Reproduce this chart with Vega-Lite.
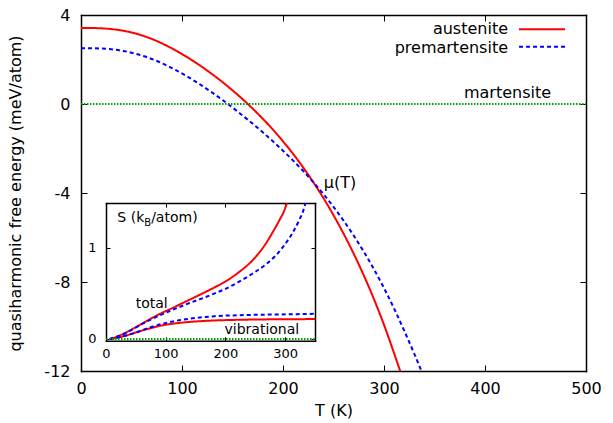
{
  "$schema": "https://vega.github.io/schema/vega-lite/v6.json",
  "width": 505,
  "height": 356,
  "autosize": {"type": "none"},
  "padding": {"left": 81, "top": 15, "right": 27, "bottom": 52},
  "background": "white",
  "datasets": {
    "main": [
      {"T": 0, "F": 3.42, "phase": "austenite"}, {"T": 10, "F": 3.416, "phase": "austenite"}, {"T": 20, "F": 3.401, "phase": "austenite"}, {"T": 30, "F": 3.367, "phase": "austenite"}, {"T": 40, "F": 3.307, "phase": "austenite"}, {"T": 50, "F": 3.215, "phase": "austenite"}, {"T": 60, "F": 3.088, "phase": "austenite"}, {"T": 70, "F": 2.925, "phase": "austenite"}, {"T": 80, "F": 2.728, "phase": "austenite"}, {"T": 90, "F": 2.5, "phase": "austenite"}, {"T": 100, "F": 2.245, "phase": "austenite"}, {"T": 110, "F": 1.965, "phase": "austenite"}, {"T": 120, "F": 1.662, "phase": "austenite"}, {"T": 130, "F": 1.336, "phase": "austenite"}, {"T": 140, "F": 0.987, "phase": "austenite"}, {"T": 150, "F": 0.614, "phase": "austenite"}, {"T": 160, "F": 0.216, "phase": "austenite"}, {"T": 170, "F": -0.209, "phase": "austenite"}, {"T": 180, "F": -0.664, "phase": "austenite"}, {"T": 190, "F": -1.152, "phase": "austenite"}, {"T": 200, "F": -1.677, "phase": "austenite"}, {"T": 210, "F": -2.243, "phase": "austenite"}, {"T": 220, "F": -2.854, "phase": "austenite"}, {"T": 230, "F": -3.514, "phase": "austenite"}, {"T": 240, "F": -4.227, "phase": "austenite"}, {"T": 250, "F": -4.997, "phase": "austenite"}, {"T": 260, "F": -5.829, "phase": "austenite"}, {"T": 270, "F": -6.729, "phase": "austenite"}, {"T": 280, "F": -7.704, "phase": "austenite"}, {"T": 290, "F": -8.764, "phase": "austenite"}, {"T": 300, "F": -9.924, "phase": "austenite"}, {"T": 310, "F": -11.204, "phase": "austenite"}, {"T": 316, "F": -12.0, "phase": "austenite"},
      {"T": 0, "F": 2.51, "phase": "premartensite"}, {"T": 10, "F": 2.506, "phase": "premartensite"}, {"T": 20, "F": 2.491, "phase": "premartensite"}, {"T": 30, "F": 2.457, "phase": "premartensite"}, {"T": 40, "F": 2.397, "phase": "premartensite"}, {"T": 50, "F": 2.307, "phase": "premartensite"}, {"T": 60, "F": 2.183, "phase": "premartensite"}, {"T": 70, "F": 2.025, "phase": "premartensite"}, {"T": 80, "F": 1.835, "phase": "premartensite"}, {"T": 90, "F": 1.616, "phase": "premartensite"}, {"T": 100, "F": 1.372, "phase": "premartensite"}, {"T": 110, "F": 1.105, "phase": "premartensite"}, {"T": 120, "F": 0.817, "phase": "premartensite"}, {"T": 130, "F": 0.51, "phase": "premartensite"}, {"T": 140, "F": 0.185, "phase": "premartensite"}, {"T": 150, "F": -0.158, "phase": "premartensite"}, {"T": 160, "F": -0.519, "phase": "premartensite"}, {"T": 170, "F": -0.889, "phase": "premartensite"}, {"T": 180, "F": -1.274, "phase": "premartensite"}, {"T": 190, "F": -1.676, "phase": "premartensite"}, {"T": 200, "F": -2.098, "phase": "premartensite"}, {"T": 210, "F": -2.543, "phase": "premartensite"}, {"T": 220, "F": -3.013, "phase": "premartensite"}, {"T": 230, "F": -3.513, "phase": "premartensite"}, {"T": 240, "F": -4.048, "phase": "premartensite"}, {"T": 250, "F": -4.623, "phase": "premartensite"}, {"T": 260, "F": -5.243, "phase": "premartensite"}, {"T": 270, "F": -5.913, "phase": "premartensite"}, {"T": 280, "F": -6.638, "phase": "premartensite"}, {"T": 290, "F": -7.423, "phase": "premartensite"}, {"T": 300, "F": -8.273, "phase": "premartensite"}, {"T": 310, "F": -9.193, "phase": "premartensite"}, {"T": 320, "F": -10.188, "phase": "premartensite"}, {"T": 330, "F": -11.228, "phase": "premartensite"}, {"T": 337, "F": -12.0, "phase": "premartensite"},
      {"T": 0, "F": 0, "phase": "martensite"}, {"T": 500, "F": 0, "phase": "martensite"}
    ],
    "legendSamples": [
      {"T": 433.7, "F": 3.357, "phase": "austenite"}, {"T": 479.2, "F": 3.357, "phase": "austenite"},
      {"T": 433.7, "F": 2.575, "phase": "premartensite"}, {"T": 479.2, "F": 2.575, "phase": "premartensite"}
    ],
    "mainLabels": [
      {"T": 422.8, "F": 3.145, "label": "austenite", "align": "right"},
      {"T": 422.8, "F": 2.306, "label": "premartensite", "align": "right"},
      {"T": 422.3, "F": 0.26, "label": "martensite", "align": "center"},
      {"T": 256.4, "F": -3.79, "label": "μ(T)", "align": "center"}
    ],
    "inset": [
      {"T": 8, "S": 0.0, "phase": "austenite", "kind": "total"}, {"T": 20, "S": 0.03, "phase": "austenite", "kind": "total"}, {"T": 32, "S": 0.065, "phase": "austenite", "kind": "total"}, {"T": 50, "S": 0.13, "phase": "austenite", "kind": "total"}, {"T": 65, "S": 0.185, "phase": "austenite", "kind": "total"}, {"T": 80, "S": 0.24, "phase": "austenite", "kind": "total"}, {"T": 95, "S": 0.29, "phase": "austenite", "kind": "total"}, {"T": 110, "S": 0.335, "phase": "austenite", "kind": "total"}, {"T": 127, "S": 0.39, "phase": "austenite", "kind": "total"}, {"T": 143, "S": 0.44, "phase": "austenite", "kind": "total"}, {"T": 165, "S": 0.51, "phase": "austenite", "kind": "total"}, {"T": 183, "S": 0.57, "phase": "austenite", "kind": "total"}, {"T": 200, "S": 0.63, "phase": "austenite", "kind": "total"}, {"T": 222, "S": 0.73, "phase": "austenite", "kind": "total"}, {"T": 245, "S": 0.86, "phase": "austenite", "kind": "total"}, {"T": 266, "S": 1.03, "phase": "austenite", "kind": "total"}, {"T": 280, "S": 1.18, "phase": "austenite", "kind": "total"}, {"T": 291, "S": 1.31, "phase": "austenite", "kind": "total"}, {"T": 298, "S": 1.4, "phase": "austenite", "kind": "total"}, {"T": 303, "S": 1.49, "phase": "austenite", "kind": "total"},
      {"T": 6, "S": 0.0, "phase": "premartensite", "kind": "total"}, {"T": 20, "S": 0.03, "phase": "premartensite", "kind": "total"}, {"T": 40, "S": 0.09, "phase": "premartensite", "kind": "total"}, {"T": 65, "S": 0.18, "phase": "premartensite", "kind": "total"}, {"T": 87, "S": 0.25, "phase": "premartensite", "kind": "total"}, {"T": 110, "S": 0.315, "phase": "premartensite", "kind": "total"}, {"T": 140, "S": 0.395, "phase": "premartensite", "kind": "total"}, {"T": 165, "S": 0.455, "phase": "premartensite", "kind": "total"}, {"T": 182, "S": 0.5, "phase": "premartensite", "kind": "total"}, {"T": 200, "S": 0.55, "phase": "premartensite", "kind": "total"}, {"T": 222, "S": 0.625, "phase": "premartensite", "kind": "total"}, {"T": 245, "S": 0.715, "phase": "premartensite", "kind": "total"}, {"T": 268, "S": 0.82, "phase": "premartensite", "kind": "total"}, {"T": 285, "S": 0.92, "phase": "premartensite", "kind": "total"}, {"T": 301, "S": 1.05, "phase": "premartensite", "kind": "total"}, {"T": 313, "S": 1.17, "phase": "premartensite", "kind": "total"}, {"T": 324, "S": 1.31, "phase": "premartensite", "kind": "total"}, {"T": 330, "S": 1.4, "phase": "premartensite", "kind": "total"}, {"T": 334, "S": 1.49, "phase": "premartensite", "kind": "total"},
      {"T": 8, "S": 0.0, "phase": "austenite", "kind": "vib"}, {"T": 20, "S": 0.015, "phase": "austenite", "kind": "vib"}, {"T": 35, "S": 0.04, "phase": "austenite", "kind": "vib"}, {"T": 54, "S": 0.08, "phase": "austenite", "kind": "vib"}, {"T": 75, "S": 0.12, "phase": "austenite", "kind": "vib"}, {"T": 99, "S": 0.155, "phase": "austenite", "kind": "vib"}, {"T": 125, "S": 0.178, "phase": "austenite", "kind": "vib"}, {"T": 150, "S": 0.192, "phase": "austenite", "kind": "vib"}, {"T": 182, "S": 0.203, "phase": "austenite", "kind": "vib"}, {"T": 220, "S": 0.21, "phase": "austenite", "kind": "vib"}, {"T": 270, "S": 0.215, "phase": "austenite", "kind": "vib"}, {"T": 350, "S": 0.218, "phase": "austenite", "kind": "vib"},
      {"T": 6, "S": 0.0, "phase": "premartensite", "kind": "vib"}, {"T": 20, "S": 0.015, "phase": "premartensite", "kind": "vib"}, {"T": 35, "S": 0.04, "phase": "premartensite", "kind": "vib"}, {"T": 54, "S": 0.08, "phase": "premartensite", "kind": "vib"}, {"T": 75, "S": 0.13, "phase": "premartensite", "kind": "vib"}, {"T": 110, "S": 0.19, "phase": "premartensite", "kind": "vib"}, {"T": 140, "S": 0.222, "phase": "premartensite", "kind": "vib"}, {"T": 165, "S": 0.24, "phase": "premartensite", "kind": "vib"}, {"T": 182, "S": 0.25, "phase": "premartensite", "kind": "vib"}, {"T": 220, "S": 0.26, "phase": "premartensite", "kind": "vib"}, {"T": 270, "S": 0.267, "phase": "premartensite", "kind": "vib"}, {"T": 320, "S": 0.272, "phase": "premartensite", "kind": "vib"}, {"T": 350, "S": 0.276, "phase": "premartensite", "kind": "vib"},
      {"T": 0, "S": 0, "phase": "martensite", "kind": "m"}, {"T": 350, "S": 0, "phase": "martensite", "kind": "m"}
    ]
  },
  "layer": [
    {
      "layer": [
        {
          "data": {"name": "main"},
          "mark": {"type": "line", "strokeWidth": 2, "interpolate": "monotone"},
          "encoding": {
            "x": {"field": "T", "type": "quantitative", "scale": {"domain": [0, 500], "nice": false, "zero": false},
              "axis": {"orient": "bottom", "values": [0, 100, 200, 300, 400, 500], "tickSize": -6, "labelPadding": 15, "labelFontSize": 16, "title": "T (K)", "titleFontSize": 16, "titleX": 252.5, "titleY": 39, "titleBaseline": "middle"}},
            "y": {"field": "F", "type": "quantitative", "scale": {"domain": [-12, 4], "nice": false, "zero": false},
              "axis": {"orient": "left", "values": [4, 0, -4, -8, -12], "tickSize": -6, "labelPadding": 17, "labelFontSize": 16, "labelExpr": "replace(datum.label, '−', '-')", "title": "quasiharmonic free energy (meV/atom)", "titleFontSize": 16, "titleX": -66, "titleY": 178, "titleBaseline": "middle"}},
            "color": {"field": "phase", "type": "nominal", "legend": null,
              "scale": {"domain": ["austenite", "premartensite", "martensite"], "range": ["#ff0000", "#0000ff", "#00a000"]}},
            "strokeDash": {"field": "phase", "type": "nominal", "legend": null,
              "scale": {"domain": ["austenite", "premartensite", "martensite"], "range": [[1, 0], [4, 3], [1.5, 1.5]]}}
          }
        },
        {
          "data": {"name": "legendSamples"},
          "mark": {"type": "line", "strokeWidth": 2},
          "encoding": {
            "x": {"field": "T", "type": "quantitative", "axis": null},
            "y": {"field": "F", "type": "quantitative", "axis": null},
            "color": {"field": "phase", "type": "nominal", "legend": null},
            "strokeDash": {"field": "phase", "type": "nominal", "legend": null}
          }
        },
        {
          "data": {"name": "mainLabels"},
          "transform": [{"filter": "datum.align === 'right'"}],
          "mark": {"type": "text", "fontSize": 16, "align": "right", "baseline": "alphabetic", "font": "DejaVu Sans", "color": "#000"},
          "encoding": {
            "x": {"field": "T", "type": "quantitative", "axis": null},
            "y": {"field": "F", "type": "quantitative", "axis": null},
            "text": {"field": "label"}
          }
        },
        {
          "data": {"name": "mainLabels"},
          "transform": [{"filter": "datum.align === 'center'"}],
          "mark": {"type": "text", "fontSize": 16, "align": "center", "baseline": "alphabetic", "font": "DejaVu Sans", "color": "#000"},
          "encoding": {
            "x": {"field": "T", "type": "quantitative", "axis": {"orient": "top", "values": [0, 100, 200, 300, 400, 500], "labels": false, "tickSize": -6, "title": null}},
            "y": {"field": "F", "type": "quantitative", "axis": {"orient": "right", "values": [4, 0, -4, -8, -12], "labels": false, "tickSize": -6, "title": null}},
            "text": {"field": "label"}
          }
        }
      ],
      "resolve": {"axis": {"x": "independent", "y": "independent"}}
    },
    {
      "layer": [
        {
          "data": {"name": "inset"},
          "mark": {"type": "line", "strokeWidth": 2, "interpolate": "monotone"},
          "encoding": {
            "x": {"field": "T", "type": "quantitative", "scale": {"domain": [0, 350], "range": [25, 234], "nice": false, "zero": false},
              "axis": {"orient": "bottom", "offset": -30.2, "values": [0, 100, 200, 300], "tickSize": -4, "labelPadding": 11, "labelFontSize": 13, "title": null}},
            "y": {"field": "S", "type": "quantitative", "scale": {"domain": [-0.02, 1.49], "range": [325.8, 188.1], "nice": false, "zero": false},
              "axis": {"orient": "left", "offset": -25, "values": [0, 1], "tickSize": -4, "labelPadding": 14, "labelFontSize": 13, "title": null}},
            "detail": {"field": "kind"},
            "color": {"field": "phase", "type": "nominal", "legend": null,
              "scale": {"domain": ["austenite", "premartensite", "martensite"], "range": ["#ff0000", "#0000ff", "#00a000"]}},
            "strokeDash": {"field": "phase", "type": "nominal", "legend": null,
              "scale": {"domain": ["austenite", "premartensite", "martensite"], "range": [[1, 0], [4, 3], [1.5, 1.5]]}}
          }
        },
        {
          "data": {"values": [{"T": 76.5, "S": 0.338, "label": "total"}, {"T": 261, "S": 0.052, "label": "vibrational"}]},
          "mark": {"type": "text", "fontSize": 14, "align": "center", "baseline": "alphabetic", "font": "DejaVu Sans", "color": "#000"},
          "encoding": {
            "x": {"field": "T", "type": "quantitative", "axis": {"orient": "top", "offset": -188.1, "values": [0, 100, 200, 300], "labels": false, "tickSize": -4, "title": null}},
            "y": {"field": "S", "type": "quantitative", "axis": {"orient": "right", "offset": -271, "values": [0, 1], "labels": false, "tickSize": -4, "title": null}},
            "text": {"field": "label"}
          }
        },
        {
          "data": {"values": [{"T": 19, "S": 1.282, "label": "S (k"}]},
          "mark": {"type": "text", "fontSize": 14, "align": "left", "baseline": "alphabetic", "font": "DejaVu Sans", "color": "#000"},
          "encoding": {
            "x": {"field": "T", "type": "quantitative", "axis": null},
            "y": {"field": "S", "type": "quantitative", "axis": null},
            "text": {"field": "label"}
          }
        },
        {
          "data": {"values": [{"T": 19, "S": 1.282, "label": "B"}]},
          "mark": {"type": "text", "fontSize": 10, "align": "left", "baseline": "alphabetic", "font": "DejaVu Sans", "color": "#000", "dx": 26.9, "dy": 4},
          "encoding": {
            "x": {"field": "T", "type": "quantitative", "axis": null},
            "y": {"field": "S", "type": "quantitative", "axis": null},
            "text": {"field": "label"}
          }
        },
        {
          "data": {"values": [{"T": 19, "S": 1.282, "label": "/atom)"}]},
          "mark": {"type": "text", "fontSize": 14, "align": "left", "baseline": "alphabetic", "font": "DejaVu Sans", "color": "#000", "dx": 33.8},
          "encoding": {
            "x": {"field": "T", "type": "quantitative", "axis": null},
            "y": {"field": "S", "type": "quantitative", "axis": null},
            "text": {"field": "label"}
          }
        }
      ],
      "resolve": {"axis": {"x": "independent", "y": "independent"}}
    }
  ],
  "resolve": {"scale": {"x": "independent", "y": "independent", "color": "independent", "strokeDash": "independent"}, "axis": {"x": "independent", "y": "independent"}},
  "config": {
    "view": {"stroke": null},
    "font": "DejaVu Sans",
    "axis": {"labelFont": "DejaVu Sans", "titleFont": "DejaVu Sans", "labelColor": "#000", "titleColor": "#000", "domainColor": "#000", "domainWidth": 1.5, "domainCap": "square", "tickColor": "#000", "tickWidth": 1, "grid": false, "titleFontWeight": "normal", "labelFlush": false, "labelOverlap": false}
  }
}
